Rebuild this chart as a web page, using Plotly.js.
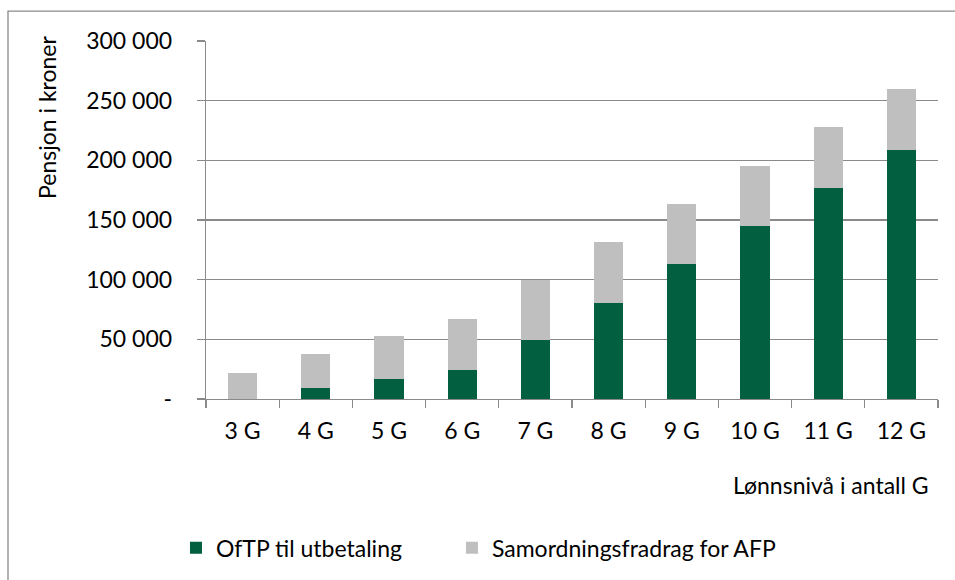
<!DOCTYPE html>
<html>
<head>
<meta charset="utf-8">
<script src="https://cdn.plot.ly/plotly-3.0.1.min.js"></script>
<style>
  html, body { margin: 0; padding: 0; background: #ffffff; }
  #chart { width: 955px; height: 580px; }
</style>
</head>
<body>
<div id="chart"></div>
<script>
const categories = ["3 G", "4 G", "5 G", "6 G", "7 G", "8 G", "9 G", "10 G", "11 G", "12 G"];
const oftpValues = [0, 8900, 16400, 23900, 49200, 80300, 112800, 144700, 176700, 208600];
const samordningValues = [21900, 29200, 36400, 43300, 50200, 51100, 50800, 50900, 51100, 51400];
const yTickVals = [0, 50000, 100000, 150000, 200000, 250000, 300000];
const yTickText = ["-", "50 000", "100 000", "150 000", "200 000", "250 000", "300 000"];
const seriesNames = ["OfTP til utbetaling", "Samordningsfradrag for AFP"];
const xTitle = "Lønnsnivå i antall G";
const yTitle = "Pensjon i kroner";

const FONT = "Lato, 'Open Sans', sans-serif";
const GRID = "#8a8a8a";
const FS = 23;

const traces = [
  {
    type: "bar", name: seriesNames[0], x: categories, y: oftpValues,
    marker: { color: "#025F3F" }, hoverinfo: "skip", legend: "legend"
  },
  {
    type: "bar", name: seriesNames[1], x: categories, y: samordningValues,
    marker: { color: "#BFBFBF" }, hoverinfo: "skip", legend: "legend2"
  }
];

const legendBase = {
  orientation: "h", xanchor: "left", y: -0.412, yanchor: "middle",
  font: { family: FONT, size: FS, color: "#000000" },
  bgcolor: "rgba(0,0,0,0)"
};

const layout = {
  width: 955, height: 580,
  margin: { l: 206, r: 17, t: 41, b: 180 },
  paper_bgcolor: "#ffffff", plot_bgcolor: "#ffffff",
  barmode: "stack", bargap: 0.6,
  font: { family: FONT, size: FS, color: "#000000" },
  showlegend: true,
  legend: Object.assign({}, legendBase, { x: -0.041 }),
  legend2: Object.assign({}, legendBase, { x: 0.336 }),
  xaxis: {
    type: "category", showgrid: false, showline: true, linecolor: GRID, linewidth: 1.3,
    ticks: "outside", tickson: "boundaries", ticklen: 8, tickcolor: GRID, tickwidth: 1.3,
    tickfont: { family: FONT, size: FS, color: "#000000" }, ticklabelstandoff: 11,
    fixedrange: true
  },
  yaxis: {
    range: [0, 300000], tickvals: yTickVals, ticktext: yTickText,
    showgrid: true, gridcolor: GRID, gridwidth: 1.3,
    showline: true, linecolor: GRID, linewidth: 1.3, zeroline: false,
    ticks: "outside", ticklen: 8, tickcolor: GRID, tickwidth: 1.3,
    tickfont: { family: FONT, size: FS, color: "#000000" }, ticklabelstandoff: 20,
    fixedrange: true
  },
  annotations: [
    {
      text: xTitle, xref: "paper", yref: "paper", x: 0.991, y: -0.2396,
      xanchor: "right", yanchor: "middle", showarrow: false,
      font: { family: FONT, size: FS, color: "#000000" }
    },
    {
      text: yTitle, xref: "paper", yref: "paper", x: -0.217, y: 0.7855,
      xanchor: "center", yanchor: "middle", textangle: -90, showarrow: false,
      font: { family: FONT, size: FS, color: "#000000" }
    }
  ],
  shapes: [
    {
      type: "rect", xref: "paper", yref: "paper",
      x0: -0.2705, x1: 1.2, y0: -0.7, y1: 1.0836,
      line: { color: GRID, width: 1.3 }, fillcolor: "rgba(0,0,0,0)", layer: "below"
    }
  ]
};

Plotly.newPlot("chart", traces, layout, { displayModeBar: false, staticPlot: true });
</script>
</body>
</html>
